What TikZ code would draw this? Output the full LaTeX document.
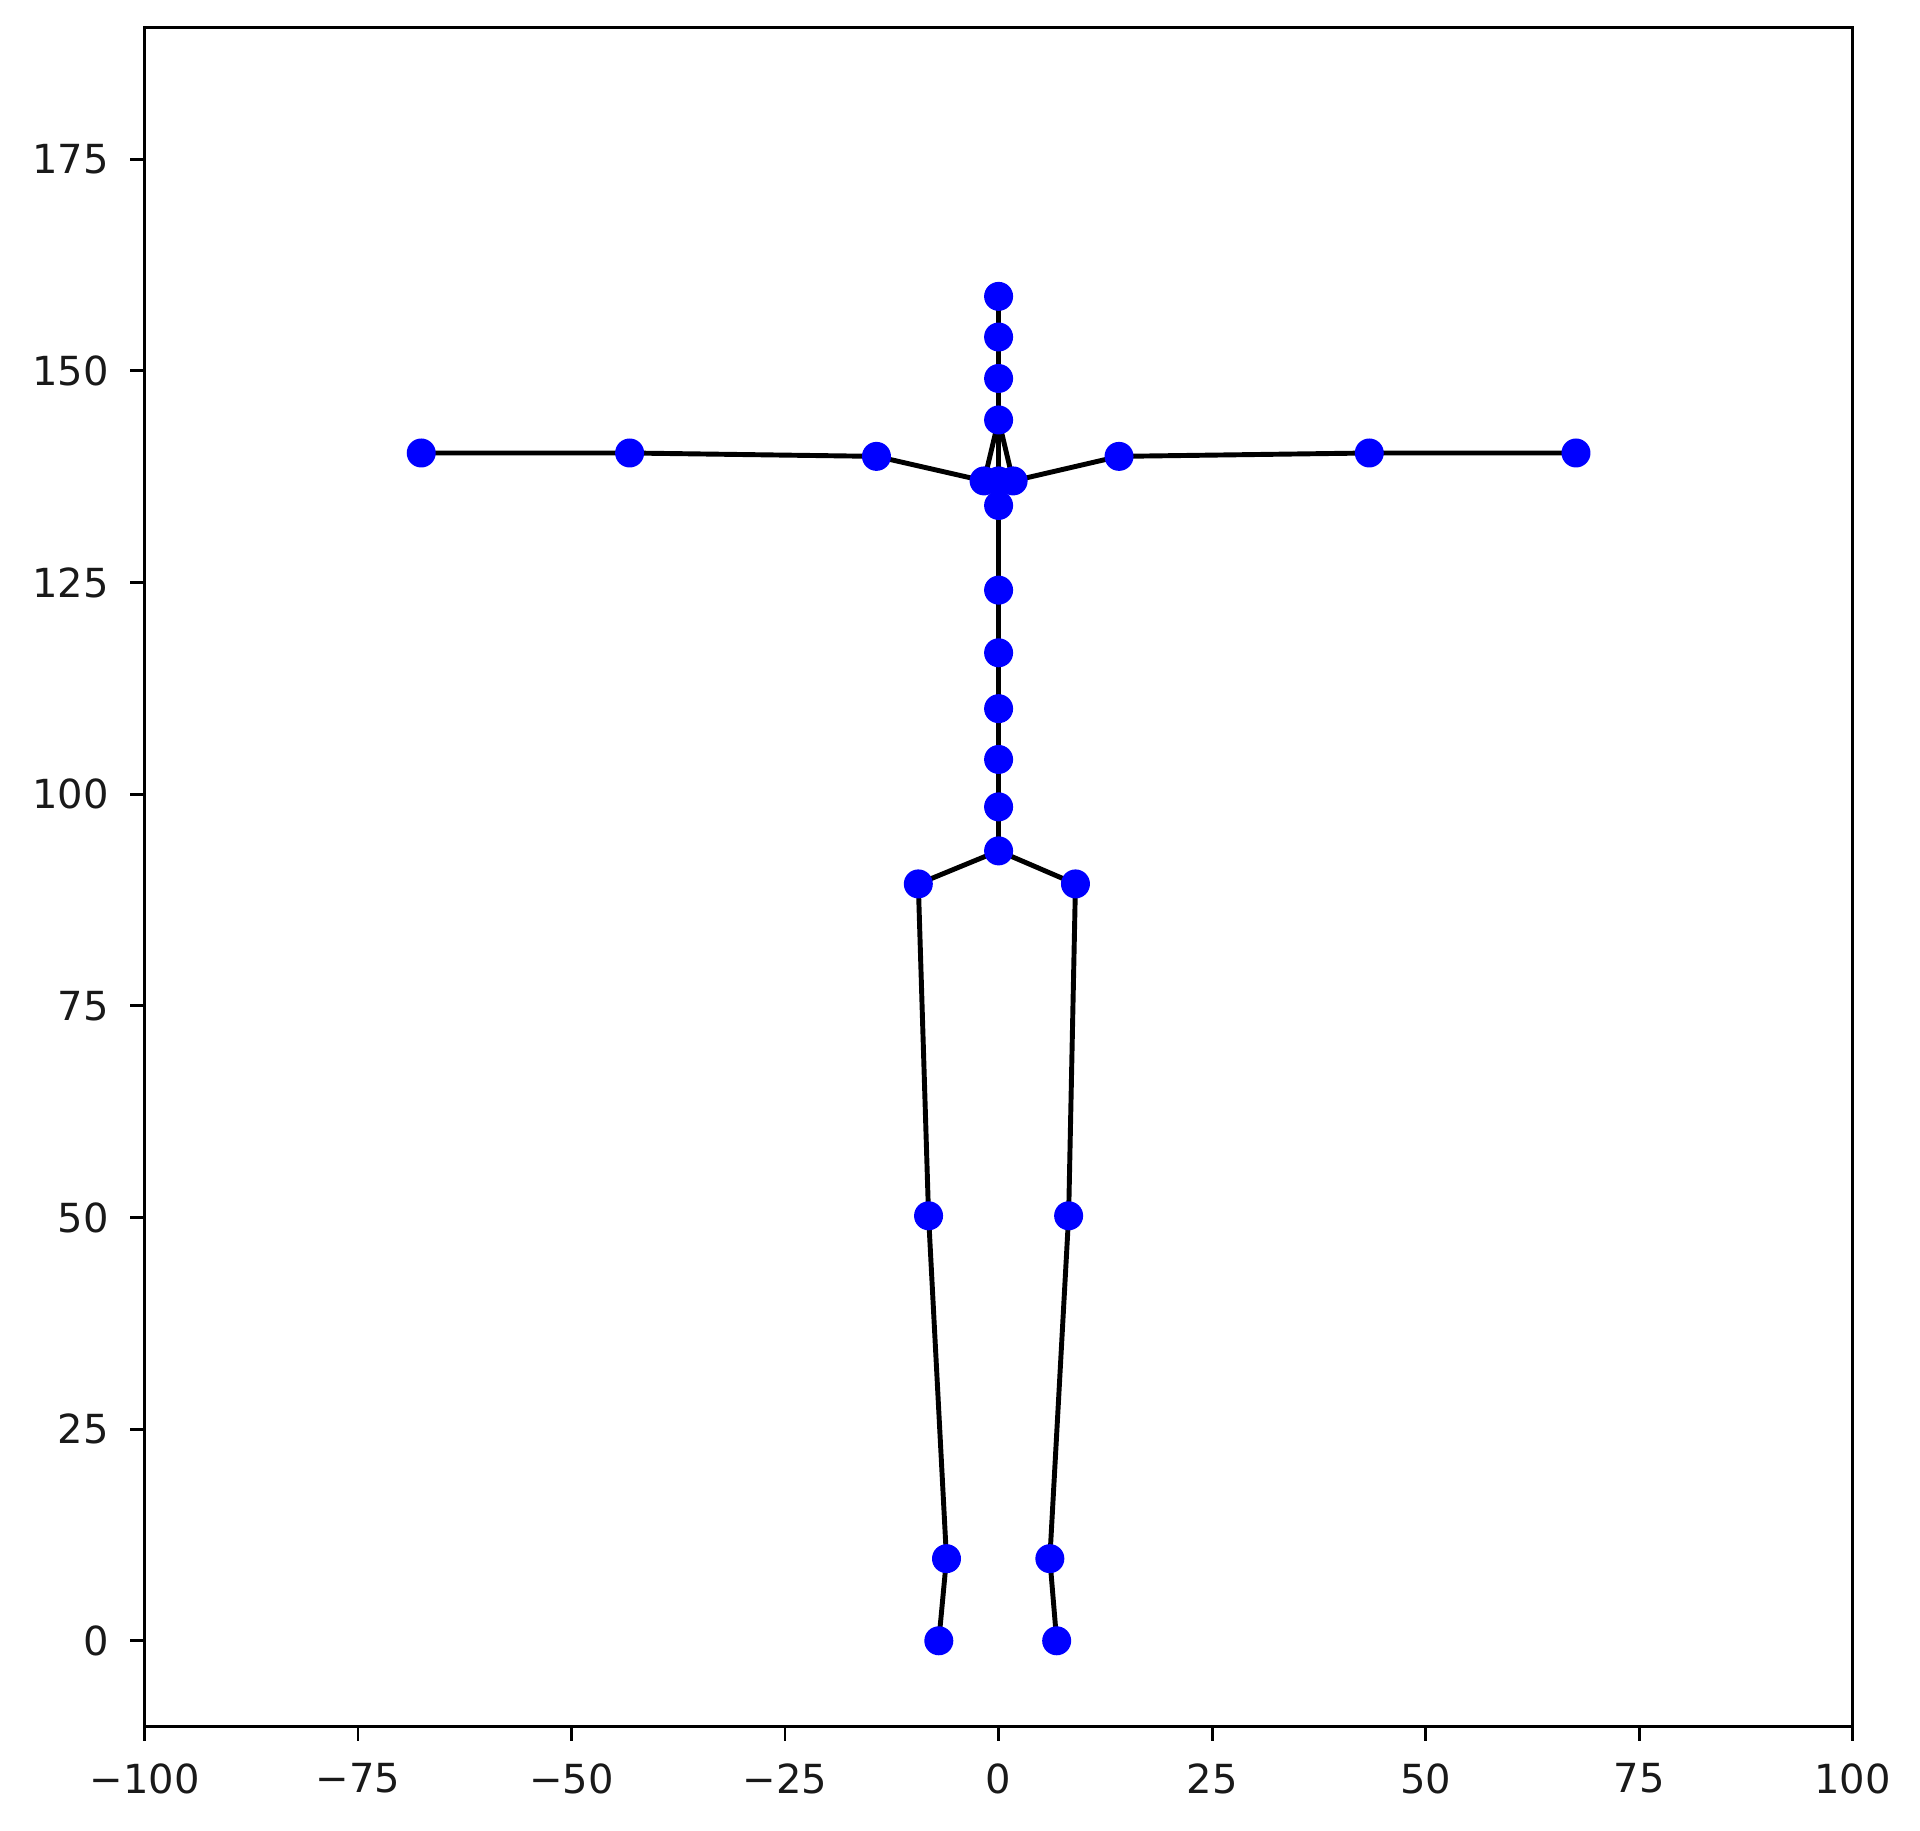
\documentclass[tikz,border=0pt]{standalone}
\usepackage{fontspec}
\setmainfont{DejaVu Sans}
\usetikzlibrary{positioning}
\tikzset{
  bone/.style={
    draw=black,
    line width=1.4pt
  },
  joint/.style={
    circle,
    fill=blue,
    inner sep=0pt,
    minimum size=2.9mm
  },
  frame/.style={
    draw=black,
    line width=0.8pt
  },
  axistick/.style={
    draw=black,
    line width=0.8pt
  },
  ticklabel/.style={
    inner sep=0pt,
    text=black!90,
    font=\fontsize{11.4}{13}\selectfont
  }
}

\begin{document}
\begin{tikzpicture}[x=0.8541mm, y=0.8466mm]

\useasboundingbox (-116.92,-22.35) rectangle (107.88,193.81);

% Axes frame
\draw[frame] (-100,-10.1) rectangle (100,190.6);

% X ticks and labels
\foreach \x/\lab in {-100/−100, -75/−75, -50/−50, -25/−25, 0/0, 25/25, 50/50, 75/75, 100/100} {
  \draw[axistick] (\x,-10.1) -- ++(0,-1.5mm);
  \node[ticklabel, anchor=north] (xlab\x) at ([yshift=-3.65mm]\x,-10.1) {\lab};
}

% Y ticks and labels
\foreach \y in {0,25,...,175} {
  \draw[axistick] (-100,\y) -- ++(-1.5mm,0);
  \node[ticklabel, anchor=east] (ylab\y) at ([xshift=-3.5mm]-100,\y) {\y};
}

% Head and neck
\coordinate (head) at (0,158.8);
\coordinate (uneck) at (0,154.0);
\coordinate (lneck) at (0,149.1);
\coordinate (thorax) at (0,144.2);

% Clavicles and arms
\coordinate (lclav) at (-1.7,137.0);
\coordinate (rclav) at (1.7,137.0);
\coordinate (lsh) at (-14.3,139.9);
\coordinate (lelb) at (-43.2,140.3);
\coordinate (lwr) at (-67.6,140.3);
\coordinate (rsh) at (14.1,139.9);
\coordinate (relb) at (43.4,140.3);
\coordinate (rwr) at (67.6,140.3);

% Spine
\coordinate (chest) at (0,137.0);
\coordinate (ubk) at (0,134.1);
\coordinate (sp4) at (0,124.1);
\coordinate (sp3) at (0,116.7);
\coordinate (sp2) at (0,110.1);
\coordinate (sp1) at (0,104.1);
\coordinate (lowbk) at (0,98.5);
\coordinate (root) at (0,93.3);

% Legs
\coordinate (lhip) at (-9.4,89.4);
\coordinate (rhip) at (9.0,89.4);
\coordinate (lknee) at (-8.2,50.2);
\coordinate (rknee) at (8.2,50.2);
\coordinate (lankle) at (-6.1,9.7);
\coordinate (rankle) at (6.0,9.7);
\coordinate (lfoot) at (-7.0,0);
\coordinate (rfoot) at (6.8,0);

% Bones
\draw[bone] (head) -- (uneck) -- (lneck) -- (thorax);
\draw[bone] (thorax) -- (lclav) -- (lsh) -- (lelb) -- (lwr);
\draw[bone] (thorax) -- (rclav) -- (rsh) -- (relb) -- (rwr);
\draw[bone] (thorax) -- (chest) -- (ubk) -- (sp4) -- (sp3) -- (sp2) -- (sp1) -- (lowbk) -- (root);
\draw[bone] (root) -- (lhip) -- (lknee) -- (lankle) -- (lfoot);
\draw[bone] (root) -- (rhip) -- (rknee) -- (rankle) -- (rfoot);

% Joints
\foreach \j in {head,uneck,lneck,thorax,lclav,rclav,chest,ubk,sp4,sp3,sp2,sp1,lowbk,root,
  lsh,lelb,lwr,rsh,relb,rwr,lhip,rhip,lknee,rknee,lankle,rankle,lfoot,rfoot} {
  \node[joint] (dot-\j) at (\j) {};
}

\end{tikzpicture}
\end{document}
